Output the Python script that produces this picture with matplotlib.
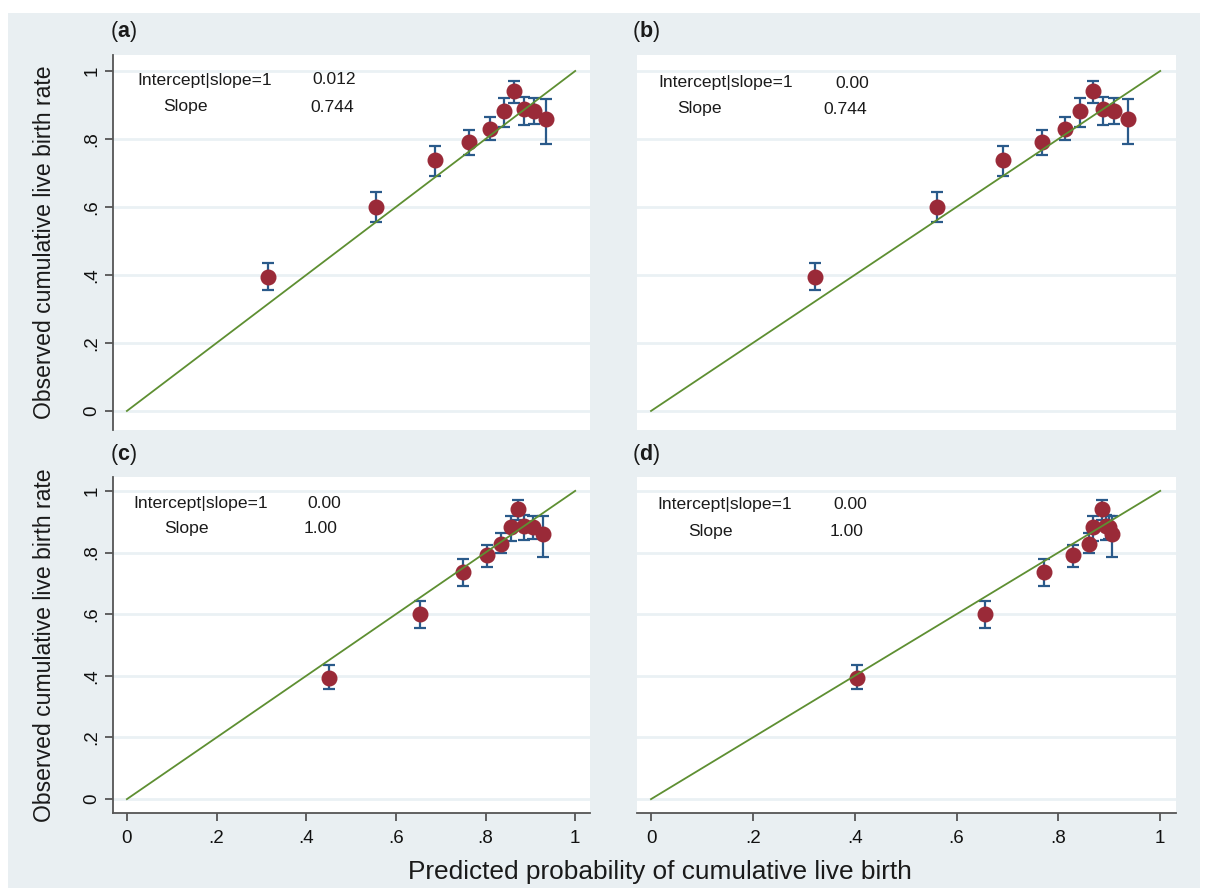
import matplotlib
matplotlib.use('Agg')
import matplotlib.pyplot as plt
from matplotlib.patches import Rectangle

plt.rcParams['font.family'] = ['Liberation Sans', 'DejaVu Sans']
plt.rcParams['mathtext.fontset'] = 'custom'
plt.rcParams['mathtext.bf'] = 'Liberation Sans:bold'
plt.rcParams['mathtext.rm'] = 'Liberation Sans'

# observed cumulative live birth rate (same in every panel) with 95% CI
obs = [0.394, 0.600, 0.738, 0.792, 0.829, 0.882, 0.942, 0.887, 0.883, 0.860]
obs_lo = [0.356, 0.556, 0.691, 0.753, 0.797, 0.836, 0.905, 0.841, 0.844, 0.785]
obs_hi = [0.435, 0.644, 0.779, 0.826, 0.864, 0.920, 0.971, 0.922, 0.920, 0.919]

# predicted probability per panel
pred_a = [0.315, 0.556, 0.688, 0.764, 0.810, 0.841, 0.864, 0.885, 0.907, 0.935]
pred_b = [0.322, 0.562, 0.692, 0.768, 0.813, 0.843, 0.868, 0.888, 0.910, 0.937]
pred_c = [0.451, 0.654, 0.749, 0.803, 0.834, 0.856, 0.873, 0.886, 0.905, 0.928]
pred_d = [0.405, 0.656, 0.772, 0.829, 0.860, 0.868, 0.886, 0.893, 0.900, 0.906]

panel_labels = ['a', 'b', 'c', 'd']
intercepts = ['0.012', '0.00', '0.00', '0.00']
slopes = ['0.744', '0.744', '1.00', '1.00']
ticks = [0, 0.2, 0.4, 0.6, 0.8, 1]
tick_labels = ['0', '.2', '.4', '.6', '.8', '1']

W, H = 1206, 888
def fx(px):
    return px / W
def fy(py):
    return 1 - py / H

fig = plt.figure(figsize=(W / 100, H / 100), dpi=100)
fig.patch.set_facecolor('white')
fig.patches.append(Rectangle((fx(8), 0), fx(1200) - fx(8), fy(13), transform=fig.transFigure,
                             facecolor='#e9eff2', edgecolor='none', zorder=-5))

# pixel boxes (left, top, right, bottom)
boxes = [(113, 55, 590, 430), (637, 55, 1176, 430), (113, 477, 590, 813), (637, 477, 1176, 813)]
xlims = [(-0.031, 1.033), (-0.0275, 1.031), (-0.031, 1.033), (-0.0275, 1.031)]
ylims = [(-0.056, 1.047), (-0.056, 1.047), (-0.045, 1.045), (-0.045, 1.045)]
preds = [pred_a, pred_b, pred_c, pred_d]
# text anchors (pixels): label x, intercept-line y, slope x, slope y, value x
txt = [(137, 80, 163, 107, 312, 310), (658, 83, 677, 109, 835, 823),
       (133, 503, 164, 528, 307, 304), (657, 504, 688, 531, 833, 830)]
lab_pos = [(110, 31), (632, 31), (110, 454), (632, 454)]

for i in range(4):
    l, t, r, b = boxes[i]
    ax = fig.add_axes([fx(l), fy(b), fx(r) - fx(l), (b - t) / H])
    ax.set_facecolor('white')
    ax.set_xlim(xlims[i])
    ax.set_ylim(ylims[i])
    for s in ['top', 'right']:
        ax.spines[s].set_visible(False)
    ax.spines['left'].set_visible(i in (0, 2))
    ax.spines['bottom'].set_visible(i in (2, 3))
    for s in ['left', 'bottom']:
        ax.spines[s].set_color('#555555')
        ax.spines[s].set_linewidth(1.3)
    for yv in ticks:
        ax.axhline(yv, color='#eaf1f4', lw=2, zorder=0)
    ax.set_yticks(ticks)
    ax.set_xticks(ticks)
    if i in (0, 2):
        ax.set_yticklabels(tick_labels, rotation=90, va='center', fontsize=13.5, color='#111111')
        ax.tick_params(axis='y', length=6, width=1.3, color='#555555', pad=3)
    else:
        ax.tick_params(axis='y', left=False, labelleft=False)
    if i in (2, 3):
        ax.set_xticklabels(tick_labels, fontsize=13.5, color='#111111')
        ax.tick_params(axis='x', length=6, width=1.3, color='#555555', pad=6)
    else:
        ax.tick_params(axis='x', bottom=False, labelbottom=False)

    ax.plot([0, 1], [0, 1], color='#5e8f32', lw=1.3, zorder=4)
    p = preds[i]
    err = [[o - lo for o, lo in zip(obs, obs_lo)], [hi - o for o, hi in zip(obs, obs_hi)]]
    ax.errorbar(p, obs, yerr=err, fmt='none', ecolor='#2a5a8a', elinewidth=1.6,
                capsize=4.5, capthick=1.6, zorder=2)
    ax.plot(p, obs, 'o', color='#9a2a38', markersize=10.5, zorder=3)

    lx, ly, sx, sy, vx1, vx2 = txt[i]
    fig.text(fx(lx), fy(ly), 'Intercept|slope=1', fontsize=12.6, va='center', color='#1a1a1a')
    fig.text(fx(vx1), fy(ly), intercepts[i], fontsize=12.6, va='center', color='#1a1a1a')
    fig.text(fx(sx), fy(sy), 'Slope', fontsize=12.6, va='center', color='#1a1a1a')
    fig.text(fx(vx2), fy(sy), slopes[i], fontsize=12.6, va='center', color='#1a1a1a')
    fig.text(fx(lab_pos[i][0]), fy(lab_pos[i][1]), '($\\mathbf{%s}$)' % panel_labels[i],
             fontsize=15.5, va='center', color='#1a1a1a')

fig.text(fx(45), fy(242), 'Observed cumulative live birth rate', rotation=90,
         fontsize=16.6, ha='center', va='center', color='#1a1a1a')
fig.text(fx(45), fy(645), 'Observed cumulative live birth rate', rotation=90,
         fontsize=16.6, ha='center', va='center', color='#1a1a1a')
fig.text(fx(660), fy(872), 'Predicted probability of cumulative live birth',
         fontsize=18.9, ha='center', va='center', color='#1a1a1a')

fig.savefig('out.png', dpi=100)
